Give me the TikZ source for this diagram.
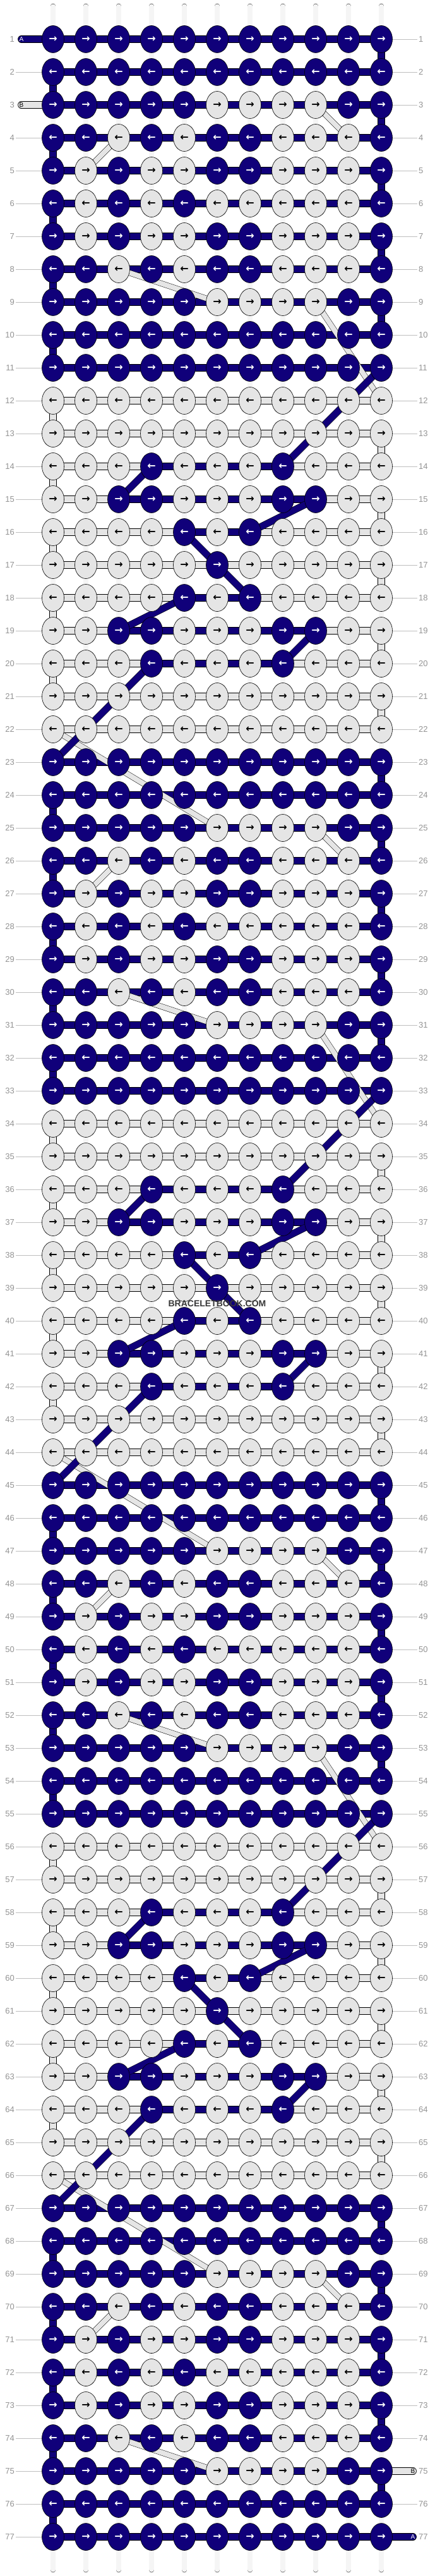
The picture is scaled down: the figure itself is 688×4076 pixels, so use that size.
\documentclass[tikz,border=0pt]{standalone}
\usepackage{fontspec}
\setmainfont{Liberation Sans}
\newfontfamily\arrowfont{DejaVu Sans}
\usetikzlibrary{shapes.geometric}
\definecolor{navy}{RGB}{16,0,122}
\definecolor{lite}{RGB}{229,229,229}
\pgfdeclarelayer{strands}
\pgfdeclarelayer{bands}
\pgfdeclarelayer{diags}
\pgfsetlayers{strands,bands,diags,main}
\begin{document}
\begin{tikzpicture}[x=1pt,y=-1pt,
    knot/.style={ellipse,draw,line width=0.6pt,minimum width=35pt,minimum height=43pt,inner sep=0pt,
      font=\arrowfont\bfseries\fontsize{16}{16}\selectfont},
    kB/.style={knot,fill=navy,text=white},
    kW/.style={knot,fill=lite,text=black},
    bandB/.style={line width=0.6pt,double=navy,double distance=10.5pt},
    bandW/.style={line width=0.6pt,double=lite,double distance=10.5pt},
    strand/.style={line width=0.6pt,double=white!96!black,double distance=7.5pt,line cap=round},
    diagB/.style={line width=0.5pt,double=navy,double distance=10pt},
    diagW/.style={line width=0.5pt,double=lite,double distance=8pt},
    tabA/.style={bandB,line cap=round},
    tabB/.style={bandW,line cap=round},
    tabtxt/.style={inner sep=0pt,font=\fontsize{10}{10}\selectfont},
    rowlab/.style={inner xsep=2pt,inner ysep=0pt,text=black!42,font=\fontsize{13}{13}\selectfont},
    labline/.style={draw=black!25,line width=0.8pt}]
  \useasboundingbox (0,0) rectangle (688,4076);
  \begin{pgfonlayer}{strands}
    \fill[white] (0,0) rectangle (688,4076);
    \foreach \i in {1,...,11}{
      \coordinate (top-\i) at (32+52*\i,10);
      \coordinate (bot-\i) at (32+52*\i,4066);
      \draw[strand] (top-\i) -- (bot-\i);}
  \end{pgfonlayer}
  % knots and row threads, the pattern repeats every 22 rows
  \foreach \blk in {0,22,44,66}{
    \foreach \pp/\knots/\segs in {
      1/{B,B,B,B,B,B,B,B,B,B,B}/{B,B,B,B,B,B,B,B,B,B},
      2/{B,B,B,B,B,B,B,B,B,B,B}/{B,B,B,B,B,B,B,B,B,B},
      3/{B,B,B,B,B,W,W,W,W,B,B}/{B,B,B,B,B,B,B,B,B,B},
      4/{B,B,W,B,W,B,B,W,W,W,B}/{B,B,B,B,B,B,B,B,B,B},
      5/{B,W,B,W,W,B,B,W,W,W,B}/{B,B,B,B,B,B,B,B,B,B},
      6/{B,W,B,W,B,W,W,W,W,W,B}/{B,B,B,B,B,B,B,B,B,B},
      7/{B,W,B,W,W,B,B,W,W,W,B}/{B,B,B,B,B,B,B,B,B,B},
      8/{B,B,W,B,W,B,B,W,W,W,B}/{B,B,B,B,B,B,B,B,B,B},
      9/{B,B,B,B,B,W,W,W,W,B,B}/{B,B,B,B,B,B,B,B,B,B},
      10/{B,B,B,B,B,B,B,B,B,B,B}/{B,B,B,B,B,B,B,B,B,B},
      11/{B,B,B,B,B,B,B,B,B,B,B}/{B,B,B,B,B,B,B,B,B,B},
      12/{W,W,W,W,W,W,W,W,W,W,W}/{W,W,W,W,W,W,W,W,W,W},
      13/{W,W,W,W,W,W,W,W,W,W,W}/{W,W,W,W,W,W,W,W,W,W},
      14/{W,W,W,B,W,W,W,B,W,W,W}/{W,W,W,B,B,B,B,W,W,W},
      15/{W,W,B,B,W,W,W,B,B,W,W}/{W,W,B,B,B,B,B,B,W,W},
      16/{W,W,W,W,B,W,B,W,W,W,W}/{W,W,W,W,B,B,W,W,W,W},
      17/{W,W,W,W,W,B,W,W,W,W,W}/{W,W,W,W,W,W,W,W,W,W},
      18/{W,W,W,W,B,W,B,W,W,W,W}/{W,W,W,W,B,B,W,W,W,W},
      19/{W,W,B,B,W,W,W,B,B,W,W}/{W,W,B,B,B,B,B,B,W,W},
      20/{W,W,W,B,W,W,W,B,W,W,W}/{W,W,W,B,B,B,B,W,W,W},
      21/{W,W,W,W,W,W,W,W,W,W,W}/{W,W,W,W,W,W,W,W,W,W},
      22/{W,W,W,W,W,W,W,W,W,W,W}/{W,W,W,W,W,W,W,W,W,W}}{
      \pgfmathtruncatemacro\row{\blk+\pp}
      \ifnum\row<78
        \foreach \kc [count=\i] in \knots
          \node[k\kc] (k-\row-\i) at (32+52*\i,10+52*\row) {\ifodd\row →\else ←\fi};
        \begin{pgfonlayer}{bands}
          \foreach \sc [count=\i] in \segs{
            \pgfmathtruncatemacro\j{\i+1}
            \draw[band\sc] (k-\row-\i.center) -- (k-\row-\j.center);}
        \end{pgfonlayer}
      \fi}}
  % turns at the edges
  \begin{pgfonlayer}{bands}
    \foreach \row in {1,...,76}{
      \pgfmathtruncatemacro\pp{mod(\row-1,22)+1}
      \pgfmathtruncatemacro\nx{\row+1}
      \pgfmathtruncatemacro\wc{isodd(\row)?11:1}
      \ifnum\pp<11 \draw[bandB] (k-\row-\wc.center) -- (k-\nx-\wc.center);\fi
      \ifnum\pp>11 \ifnum\pp<22 \draw[bandW] (k-\row-\wc.center) -- (k-\nx-\wc.center);\fi\fi}
  \end{pgfonlayer}
  % carried threads
  \begin{pgfonlayer}{diags}
    \foreach \blk in {0,22,44,66}{
      \foreach \ia/\ja/\ib/\jb in {3/9/4/10,4/3/5/2,8/3/9/6,9/9/12/11,0/1/3/6}{
        \pgfmathtruncatemacro\ra{\ia+\blk}
        \pgfmathtruncatemacro\rb{\ib+\blk}
        \ifnum\ra>0 \ifnum\rb<78 \draw[diagW] (k-\ra-\ja.center) -- (k-\rb-\jb.center);\fi\fi}}
    \foreach \blk in {0,22,44}{
      \foreach \ia/\ja/\ib/\jb in {11/11/14/8,14/4/15/3,15/9/16/7,16/5/18/7,18/5/19/3,19/9/20/8,20/4/23/1}{
        \pgfmathtruncatemacro\ra{\ia+\blk}
        \pgfmathtruncatemacro\rb{\ib+\blk}
        \draw[diagB] (k-\ra-\ja.center) -- (k-\rb-\jb.center);}}
  \end{pgfonlayer}
  % row numbers
  \foreach \row in {1,...,77}{
    \node[rowlab,anchor=east] (ll-\row) at (25,10+52*\row) {\row};
    \node[rowlab,anchor=west] (lr-\row) at (661,10+52*\row) {\row};}
  \begin{pgfonlayer}{strands}
    \foreach \row in {2,4,5,...,77} \draw[labline] (ll-\row) -- (k-\row-1);
    \foreach \row in {1,...,74,76} \draw[labline] (k-\row-11) -- (lr-\row);
  \end{pgfonlayer}
  % thread ends
  \node[tabtxt,text=white] (tA1) at (34,62) {A};
  \node[tabtxt] (tB1) at (34,166) {B};
  \node[tabtxt] (tB2) at (654,3910) {B};
  \node[tabtxt,text=white] (tA2) at (654,4014) {A};
  \begin{pgfonlayer}{bands}
    \draw[tabA] (tA1.center) -- (k-1-1.center);
    \draw[tabB] (tB1.center) -- (k-3-1.center);
    \draw[tabB] (k-75-11.center) -- (tB2.center);
    \draw[tabA] (k-77-11.center) -- (tA2.center);
  \end{pgfonlayer}
  \node[font=\bfseries\fontsize{14}{14}\selectfont,text=black!78] (wm) at (344,2063) {BRACELETBOOK.COM};
\end{tikzpicture}
\end{document}
